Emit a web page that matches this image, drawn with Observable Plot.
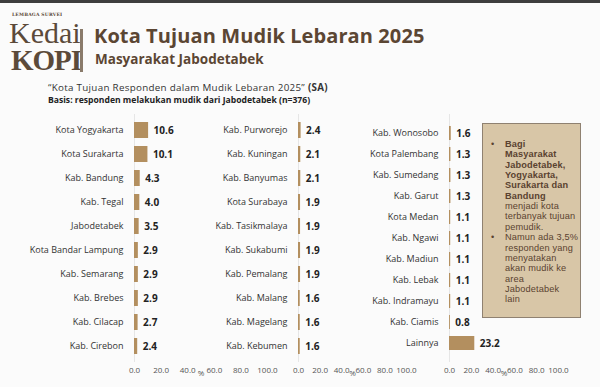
<!DOCTYPE html>
<html>
<head>
<meta charset="utf-8">
<script src="https://cdn.jsdelivr.net/npm/d3@7"></script>
<script src="https://cdn.jsdelivr.net/npm/@observablehq/plot@0.6"></script>
<style>
  html, body { margin: 0; padding: 0; background: #fbfbfb; }
  #root { position: relative; width: 600px; height: 387px; overflow: hidden; background: #fbfbfb; font-family: "Open Sans", sans-serif; }
  .abs { position: absolute; }
  #topbar { left: 0; top: 0; width: 600px; height: 3px; background: #3e3e3e; }
  #title { left: 94px; top: 22px; font-size: 20px; font-weight: 700; color: #5b4633; white-space: nowrap; letter-spacing: 0.1px; }
  #subtitle { left: 95px; top: 50px; font-size: 13.5px; font-weight: 700; color: #5b4633; white-space: nowrap; }
  #q1 { left: 48px; top: 81px; font-size: 9.8px; letter-spacing: 0.3px; color: #333; white-space: nowrap; }
  #q2 { left: 48px; top: 94px; font-size: 8.6px; font-weight: 700; color: #222; white-space: nowrap; }
  #logo-small { left: 12px; top: 12px; font-family: "DejaVu Serif", serif; font-size: 4.5px; line-height: 5px; font-weight: 700; color: #5b4a3a; letter-spacing: 0.2px; }
  #logo-kedai { left: 9px; top: 22px; font-family: "Liberation Serif", serif; font-size: 30px; color: #5b4a3a; line-height: 22px; }
  #logo-kopi { left: 11px; top: 49px; font-family: "Liberation Serif", serif; font-size: 29px; font-weight: 700; color: #5b4a3a; line-height: 22px; letter-spacing: -1px; }
  #logo-bar { left: 80px; top: 29px; width: 3px; height: 43px; background: #8a7b6b; }
  .plot { position: absolute; top: 110px; }
  #box { left: 482px; top: 123px; width: 99px; height: 195px; background: #d8c6a7; border: 1.5px solid #8f8171; box-sizing: border-box; }
  #boxtext { position: absolute; left: 0; top: 15px; font-family: "Liberation Sans", Arial, sans-serif; font-size: 9.2px; line-height: 10.35px; color: #5a4230; letter-spacing: 0.15px; }
  #boxtext .b { position: absolute; left: 8px; }
  #boxtext .t { position: absolute; left: 22px; white-space: nowrap; }
</style>
</head>
<body>
<div id="root">
  <div id="topbar" class="abs"></div>
  <div id="logo-small" class="abs">LEMBAGA SURVEI</div>
  <div id="logo-kedai" class="abs">Kedai</div>
  <div id="logo-kopi" class="abs">KOPI</div>
  <div id="logo-bar" class="abs"></div>
  <div id="title" class="abs">Kota Tujuan Mudik Lebaran 2025</div>
  <div id="subtitle" class="abs">Masyarakat Jabodetabek</div>
  <div id="q1" class="abs">“Kota Tujuan Responden dalam Mudik Lebaran 2025” <b>(SA)</b></div>
  <div id="q2" class="abs">Basis: responden melakukan mudik dari Jabodetabek (n=376)</div>
  <div id="p1" class="plot"></div>
  <div id="p2" class="plot"></div>
  <div id="p3" class="plot"></div>
  <div id="box" class="abs">
    <div id="boxtext">
      <div class="b" style="top:0px">•</div>
      <div class="t" style="top:0px;font-weight:700">Bagi<br>Masyarakat<br>Jabodetabek,<br>Yogyakarta,<br>Surakarta dan<br>Bandung</div>
      <div class="t" style="top:62.1px">menjadi kota<br>terbanyak tujuan<br>pemudik.</div>
      <div class="b" style="top:93.2px">•</div>
      <div class="t" style="top:93.2px">Namun ada 3,5%<br>responden yang<br>menyatakan<br>akan mudik ke<br>area<br>Jabodetabek<br>lain</div>
    </div>
  </div>
</div>
<script>
const cats1 = ["Kota Yogyakarta","Kota Surakarta","Kab. Bandung","Kab. Tegal","Jabodetabek","Kota Bandar Lampung","Kab. Semarang","Kab. Brebes","Kab. Cilacap","Kab. Cirebon"];
const vals1 = [10.6,10.1,4.3,4.0,3.5,2.9,2.9,2.9,2.7,2.4];
const cats2 = ["Kab. Purworejo","Kab. Kuningan","Kab. Banyumas","Kota Surabaya","Kab. Tasikmalaya","Kab. Sukabumi","Kab. Pemalang","Kab. Malang","Kab. Magelang","Kab. Kebumen"];
const vals2 = [2.4,2.1,2.1,1.9,1.9,1.9,1.9,1.6,1.6,1.6];
const cats3 = ["Kab. Wonosobo","Kota Palembang","Kab. Sumedang","Kab. Garut","Kota Medan","Kab. Ngawi","Kab. Madiun","Kab. Lebak","Kab. Indramayu","Kab. Ciamis","Lainnya"];
const vals3 = [1.6,1.3,1.3,1.3,1.1,1.1,1.1,1.1,1.1,0.8,23.2];
const xTicks = [0,20,40,60,80,100];

function panel(cats, vals, opts) {
  const data = cats.map((c, i) => ({c, v: vals[i]}));
  return Plot.plot({
    width: opts.width, height: 274,
    marginLeft: opts.marginLeft, marginRight: opts.marginRight,
    marginTop: 4, marginBottom: 22,
    style: {fontFamily: "Open Sans, sans-serif", fontSize: "9px", background: "transparent", color: "#333", overflow: "visible"},
    x: {domain: [0, 100]},
    y: {domain: cats, padding: 0.33},
    marks: [
      Plot.ruleX([0], {stroke: "#e6e6e6", strokeWidth: 1}),
      Plot.barX(data, {x: "v", y: "c", fill: "#b38f5f"}),
      Plot.text(data, {x: "v", y: "c", text: d => d.v.toFixed(1), dx: 5, textAnchor: "start", fontWeight: "bold", fontSize: 10, fill: "#222"}),
      Plot.axisY({tickSize: 0, tickPadding: 11, label: null, fontSize: 9, fill: "#333"}),
      Plot.axisX({ticks: xTicks, tickFormat: d => d.toFixed(1), tickSize: 0, tickPadding: 5, fontSize: 8, fill: "#555",
        label: "%", labelAnchor: "center", labelArrow: "none", labelOffset: 13})
    ]
  });
}

const p1 = panel(cats1, vals1, {width: 285, marginLeft: 134, marginRight: 18});
const p2 = panel(cats2, vals2, {width: 221, marginLeft: 93, marginRight: 20});
const p3 = panel(cats3, vals3, {width: 238, marginLeft: 89, marginRight: 40});
document.getElementById("p1").style.left = "0px";
document.getElementById("p2").style.left = "205px";
document.getElementById("p3").style.left = "360px";
document.getElementById("p1").appendChild(p1);
document.getElementById("p2").appendChild(p2);
document.getElementById("p3").appendChild(p3);
</script>
</body>
</html>
